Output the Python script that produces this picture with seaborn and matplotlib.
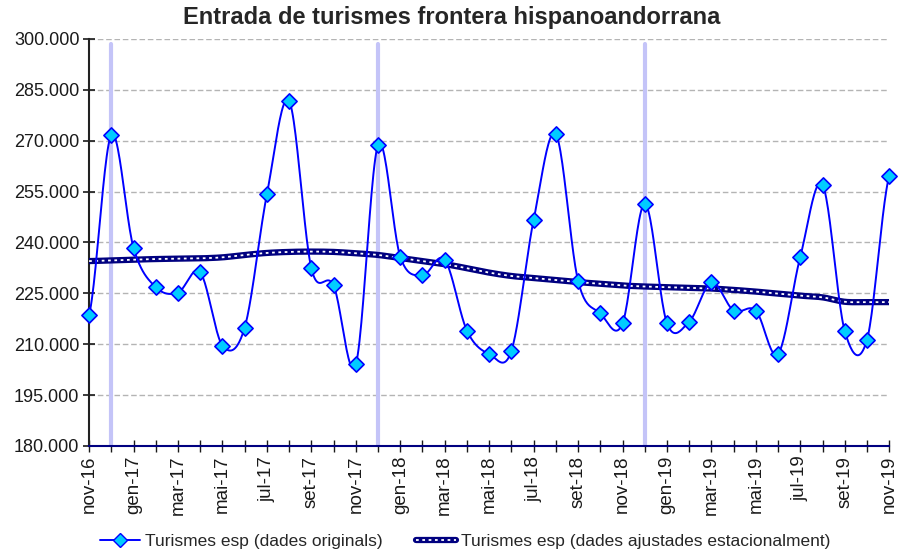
import matplotlib
matplotlib.use("Agg")
import matplotlib.pyplot as plt
from matplotlib.lines import Line2D
from matplotlib.ticker import FuncFormatter, MultipleLocator
import numpy as np
import pandas as pd
import seaborn as sns

# monthly labels nov-16 .. nov-19
months = ["nov-16", "des-16", "gen-17", "feb-17", "mar-17", "abr-17", "mai-17", "jun-17",
          "jul-17", "ago-17", "set-17", "oct-17", "nov-17", "des-17", "gen-18", "feb-18",
          "mar-18", "abr-18", "mai-18", "jun-18", "jul-18", "ago-18", "set-18", "oct-18",
          "nov-18", "des-18", "gen-19", "feb-19", "mar-19", "abr-19", "mai-19", "jun-19",
          "jul-19", "ago-19", "set-19", "oct-19", "nov-19"]

originals = [218600, 271700, 238400, 226800, 225200, 231200, 209600, 214900,
             254200, 281700, 232400, 227300, 204100, 268700, 235800, 230300,
             234900, 214000, 207100, 208000, 246600, 271900, 228700, 219100,
             216100, 251400, 216200, 216600, 228200, 219900, 219900, 207100,
             235800, 257000, 213900, 211300, 259600]

adjusted = [234500, 234700, 234900, 235100, 235200, 235300, 235600, 236300,
            236900, 237200, 237300, 237200, 236800, 236300, 235400, 234500,
            233600, 232400, 231100, 230100, 229500, 228900, 228300, 227800,
            227300, 227000, 226800, 226600, 226400, 226000, 225500, 224900,
            224300, 223800, 222500, 222400, 222400]

december_idx = [1, 13, 25]

label_orig = "Turismes esp (dades originals)"
label_adj = "Turismes esp (dades ajustades estacionalment)"


def smooth(y, n=24):
    # Catmull-Rom style smoothing, like Excel's "smoothed line"
    y = np.asarray(y, dtype=float)
    p = np.concatenate([[y[0]], y, [y[-1]]])
    xs, ys = [], []
    for i in range(len(y) - 1):
        p0, p1, p2, p3 = p[i], p[i + 1], p[i + 2], p[i + 3]
        t = np.linspace(0, 1, n, endpoint=False)
        v = 0.5 * ((2 * p1) + (-p0 + p2) * t + (2 * p0 - 5 * p1 + 4 * p2 - p3) * t ** 2
                   + (-p0 + 3 * p1 - 3 * p2 + p3) * t ** 3)
        xs.append(i + t)
        ys.append(v)
    xs.append([len(y) - 1])
    ys.append([y[-1]])
    return np.concatenate(xs), np.concatenate(ys)


mystyle = {'axes.facecolor': 'white',
           'figure.facecolor': 'white',
           'axes.grid': False,
           'axes.edgecolor': '.15',
           'xtick.bottom': True,
           'ytick.left': True,
           'xtick.color': '.1',
           'ytick.color': '.1'}
sns.set_style("white", mystyle)
plt.rcParams['font.family'] = ['Liberation Sans', 'DejaVu Sans']

fig = plt.figure(figsize=(9, 5.56), dpi=100)
ax = fig.add_axes([0.099, 0.198, 0.889, 0.732])

# horizontal dashed grid
for v in range(195000, 300001, 15000):
    ax.axhline(v, color='#b4b4b4', lw=1, ls=(0, (4, 2)), zorder=0)

# december markers
for i in december_idx:
    ax.axvline(i, ymin=0, ymax=0.988, color='#c4c4f8', lw=3, zorder=1)

xs, ys = smooth(adjusted)
df_adj = pd.DataFrame({"x": xs, "y": ys})
sns.lineplot(data=df_adj, x="x", y="y", ax=ax, color='#000080', lw=4.5,
             estimator=None, sort=False, zorder=3)
sns.lineplot(data=df_adj, x="x", y="y", ax=ax, color='white', lw=1.3,
             ls=(0, (1.5, 2.0)), estimator=None, sort=False, zorder=4)

xo, yo = smooth(originals)
df_orig = pd.DataFrame({"x": xo, "y": yo})
sns.lineplot(data=df_orig, x="x", y="y", ax=ax, color='#0000ff', lw=1.4,
             estimator=None, sort=False, zorder=5)
df_pts = pd.DataFrame({"x": np.arange(len(originals)), "y": originals})
sns.scatterplot(data=df_pts, x="x", y="y", ax=ax, marker='D', s=60,
                color='#00ccff', edgecolor='#0000ff', linewidth=1.2, zorder=6,
                clip_on=False)

ax.set_xlim(0, len(months) - 1)
ax.set_ylim(180000, 300000)
ax.yaxis.set_major_locator(MultipleLocator(15000))
ax.yaxis.set_major_formatter(FuncFormatter(lambda v, p: f"{v:,.0f}".replace(",", ".")))
ax.set_xticks(range(0, len(months), 2))
ax.set_xticklabels(months[::2], rotation=90)
ax.set_xticks(range(len(months)), minor=True)
ax.tick_params(axis='x', which='both', direction='inout', length=8, width=1,
               labelsize=13.5, color='.1', pad=3)
ax.tick_params(axis='y', direction='inout', length=8, width=1.2, labelsize=13, pad=3)
ax.set_xlabel("")
ax.set_ylabel("")

for s in ['top', 'right']:
    ax.spines[s].set_visible(False)
ax.spines['left'].set_linewidth(1.5)
ax.spines['left'].set_color('#222222')
ax.spines['bottom'].set_color('#000080')
ax.spines['bottom'].set_linewidth(1.5)

fig.text(0.502, 0.968, "Entrada de turismes frontera hispanoandorrana",
         ha='center', va='center', fontsize=17, fontweight='bold')

h1 = Line2D([], [], color='#0000ff', lw=1.4, marker='D', markersize=7,
            markerfacecolor='#00ccff', markeredgecolor='#0000ff')
h2a = Line2D([], [], color='#000080', lw=4.5)
h2b = Line2D([], [], color='white', lw=1.3, ls=(0, (1.5, 2.0)))
fig.legend([h1, (h2a, h2b)], [label_orig, label_adj], loc='lower center',
           bbox_to_anchor=(0.517, -0.016), ncol=2, frameon=False, fontsize=12.5,
           handlelength=2.3, handletextpad=0.3, columnspacing=1.9)

fig.savefig("out.png", dpi=100)
